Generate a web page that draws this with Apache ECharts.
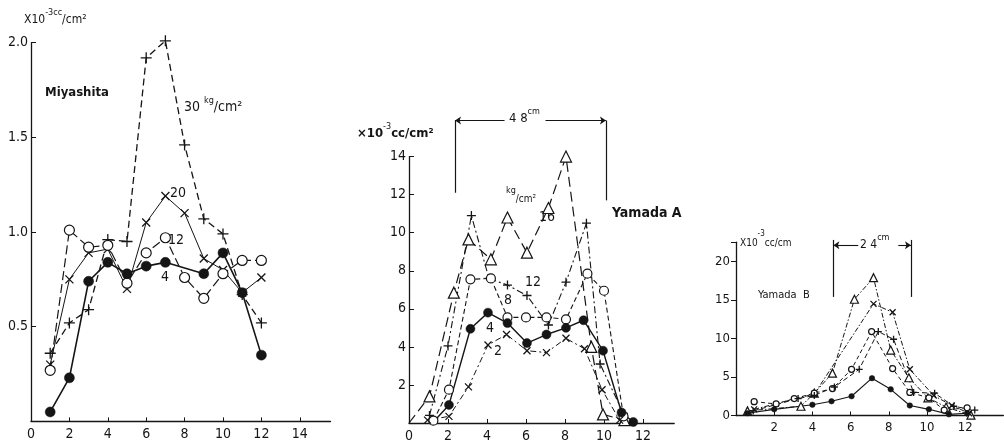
<!DOCTYPE html>
<html><head><meta charset="utf-8">
<script src="https://cdn.jsdelivr.net/npm/echarts@6/dist/echarts.min.js"></script>
<style>html,body{margin:0;padding:0;background:#fff}#c{width:1004px;height:443px}</style>
</head><body><div id="c"></div>
<script>
// ---------- Panel 1: Miyashita (x = position, y = x10^-3 cc/cm^2) ----------
const miyX   = [1, 2, 3, 4, 5, 6, 7, 8, 9, 10, 11, 12];
const miy4   = [0.05, 0.23, 0.74, 0.84, 0.78, 0.82, 0.84, null, 0.78, 0.89, 0.68, 0.35];
const miy12  = [0.27, 1.01, 0.92, 0.93, 0.73, 0.89, 0.97, 0.76, 0.65, 0.78, 0.85, 0.85];
const miy20  = [0.30, 0.75, 0.89, 0.91, 0.70, 1.05, 1.19, 1.10, 0.86, 0.80, 0.68, 0.76];
const miy30  = [0.36, 0.52, 0.59, 0.96, 0.95, 1.92, 2.01, 1.46, 1.07, 0.99, 0.67, 0.52];
const miyXTicks = [0, 2, 4, 6, 8, 10, 12, 14];
const miyYTicks = [0.5, 1.0, 1.5, 2.0];

// ---------- Panel 2: Yamada A ----------
const yaX16 = [0, 1.05, 2.3, 3.05, 4.2, 5.05, 6.05, 7.15, 8.05, 9.35, 9.95, 11.05];
const yaY16 = [0, 1.4, 6.85, 9.65, 8.6, 10.8, 8.95, 11.3, 14.0, 4.0, 0.45, 0.15];
const yaX12 = [1.05, 2.0, 3.2, 4.1, 5.05, 6.05, 7.15, 8.05, 9.1, 9.8, 11.0];
const yaY12 = [0.4, 4.05, 10.9, 7.6, 7.25, 6.7, 5.15, 7.4, 10.5, 3.1, 0.5];
const yaX8  = [1.25, 2.05, 3.15, 4.2, 5.05, 6.0, 7.05, 8.05, 9.15, 10.0, 11.0];
const yaY8  = [0.12, 1.75, 7.55, 7.6, 5.55, 5.55, 5.55, 5.45, 7.85, 6.95, 0.35];
const yaX4  = [1.2, 2.05, 3.15, 4.05, 5.05, 6.05, 7.05, 8.05, 8.95, 9.95, 10.9, 11.5];
const yaY4  = [0.0, 0.95, 4.95, 5.8, 5.25, 4.2, 4.65, 5.0, 5.4, 3.8, 0.55, 0.05];
const yaX2  = [0.95, 2.05, 3.05, 4.05, 5.0, 6.05, 7.05, 8.05, 9.0, 9.9, 10.8];
const yaY2  = [0.15, 0.35, 1.9, 4.1, 4.65, 3.8, 3.7, 4.45, 3.9, 1.75, 0.15];
const yaXTicks = [0, 2, 4, 6, 8, 10, 12];
const yaYTicks = [2, 4, 6, 8, 10, 12, 14];

// ---------- Panel 3: Yamada B ----------
const ybXTri = [0.6, 3.4, 4.1, 5.05, 6.2, 7.2, 8.1, 9.05, 10.05, 11.0, 12.3];
const ybYTri = [0.6, 1.2, 2.9, 5.5, 15.1, 17.9, 8.5, 4.9, 2.3, 1.1, 0.05];
const ybXCrs = [0.95, 4.1, 7.2, 8.2, 9.1, 10.35, 11.3, 12.2];
const ybYCrs = [0.8, 2.8, 14.5, 13.4, 6.0, 2.6, 1.3, 0.3];
const ybXRing = [0.95, 2.1, 3.05, 4.1, 5.05, 6.05, 7.1, 8.2, 9.1, 10.1, 10.9, 12.1];
const ybYRing = [1.8, 1.5, 2.2, 2.9, 3.5, 6.0, 10.9, 6.1, 3.0, 2.3, 0.7, 1.0];
const ybXPlus = [0.9, 3.25, 4.1, 5.15, 6.45, 7.45, 8.25, 9.3, 10.4, 11.4, 12.5];
const ybYPlus = [0.6, 2.2, 2.6, 3.7, 6.0, 10.9, 9.9, 3.0, 2.9, 1.2, 0.7];
const ybXDot = [0.6, 2.0, 4.0, 5.0, 6.05, 7.12, 8.1, 9.1, 10.1, 11.15, 12.1];
const ybYDot = [0.3, 0.8, 1.4, 1.85, 2.5, 4.85, 3.4, 1.3, 0.8, 0.15, 0.3];
const ybXTicks = [2, 4, 6, 8, 10, 12];
const ybYTicks = [0, 5, 10, 15, 20];

// ---------- bracket annotations (data coords) ----------
const yaBracket = { left: 2.36, right: 10.1, top: 15.9, leftBottom: 12.1, rightBottom: 11.7, gapA: 4.9, gapB: 7.0 };
const ybBracket = { left: 5.1, right: 9.16, top: 22.1, vTop: 22.8, bottom: 15.4, gapA: 6.4, gapB: 8.5 };

const INK = '#151515';
const FONT = "'Liberation Sans Narrow','DejaVu Sans Condensed','Liberation Sans',sans-serif";
const SYM = {
  cross: 'path://M0,0L10,10M10,0L0,10',
  plus: 'path://M5,0L5,10M0,5L10,5'
};

function pts(xs, ys, noFirstMarker) {
  const out = [];
  xs.forEach((x, i) => {
    if (ys[i] == null) return;
    if (noFirstMarker && i === 0) out.push({ value: [x, ys[i]], symbol: 'none' });
    else out.push([x, ys[i]]);
  });
  return out;
}

function mk(gi, xs, ys, marker, dash, lw, size, noFirst) {
  let itemStyle, symbol;
  if (marker === 'dot') { symbol = 'circle'; itemStyle = { color: INK, borderColor: INK, borderWidth: 0.5 }; }
  else if (marker === 'ring') { symbol = 'circle'; itemStyle = { color: '#fff', borderColor: INK, borderWidth: 1.2 }; }
  else if (marker === 'tri') { symbol = 'triangle'; itemStyle = { color: '#fff', borderColor: INK, borderWidth: 1.2 }; }
  else { symbol = SYM[marker]; itemStyle = { color: INK, borderColor: INK, borderWidth: 1.3 }; }
  return {
    type: 'line', xAxisIndex: gi, yAxisIndex: gi,
    data: pts(xs, ys, noFirst), symbol, symbolSize: size, showAllSymbol: true,
    lineStyle: { color: INK, width: lw, type: dash }, itemStyle,
    clip: false, silent: true, animation: false
  };
}

function axisX(gi, max, ticks, fs, showZero) {
  return {
    type: 'value', gridIndex: gi, min: 0, max, interval: 2,
    axisLine: { onZero: false, lineStyle: { color: INK, width: 1.3 } },
    axisTick: { inside: true, length: 4, lineStyle: { color: INK } },
    splitLine: { show: false },
    axisLabel: {
      color: INK, fontFamily: FONT, fontSize: fs, margin: 6, showMaxLabel: false, showMinLabel: showZero,
      formatter: v => (ticks.indexOf(v) >= 0 ? String(v) : '')
    }
  };
}
function axisY(gi, max, interval, ticks, fs, inside, showZero, fmt) {
  return {
    type: 'value', gridIndex: gi, min: 0, max, interval,
    axisLine: { onZero: false, lineStyle: { color: INK, width: 1.3 } },
    axisTick: { inside, length: 5, lineStyle: { color: INK } },
    splitLine: { show: false },
    axisLabel: {
      color: INK, fontFamily: FONT, fontSize: fs, margin: inside ? 3 : 6, showMinLabel: showZero, showMaxLabel: true,
      formatter: v => (ticks.some(t => Math.abs(t - v) < 1e-9) ? (fmt ? fmt(v) : String(v)) : '')
    }
  };
}

function bracketSeries(gi, b, vTop) {
  const segs = [
    { coords: [[b.left, b.leftBottom !== undefined ? b.leftBottom : b.bottom], [b.left, vTop]] },
    { coords: [[b.right, b.rightBottom !== undefined ? b.rightBottom : b.bottom], [b.right, vTop]] }
  ];
  const arrows = [
    { coords: [[b.gapA, b.top], [b.left, b.top]] },
    { coords: [[b.gapB, b.top], [b.right, b.top]] }
  ];
  const base = { type: 'lines', coordinateSystem: 'cartesian2d', xAxisIndex: gi, yAxisIndex: gi, silent: true, animation: false, clip: false };
  return [
    Object.assign({}, base, { data: segs, symbol: 'none', lineStyle: { color: INK, width: 1.2, opacity: 1 } }),
    Object.assign({}, base, { data: arrows, symbol: ['none', 'arrow'], symbolSize: 6, lineStyle: { color: INK, width: 1.1, opacity: 1 } })
  ];
}

const sup = (sz) => ({ fontSize: sz, fontFamily: FONT, fill: INK, verticalAlign: 'top', lineHeight: 18 });
const nor = (sz, w) => ({ fontSize: sz, fontFamily: FONT, fill: INK, fontWeight: w || 'normal', verticalAlign: 'bottom', lineHeight: 18 });
function rtext(x, y, text, rich) {
  return { type: 'text', x, y, silent: true, style: { text, rich, fill: INK } };
}
function ptext(x, y, text, size, weight) {
  return { type: 'text', x, y, silent: true, style: { text, fill: INK, font: (weight || 'normal') + ' ' + size + 'px ' + FONT } };
}

const chart = echarts.init(document.getElementById('c'), null, { renderer: 'canvas' });
chart.setOption({
  backgroundColor: '#fff',
  animation: false,
  grid: [
    { left: 31, top: 42.7, width: 299.5, height: 378.7, containLabel: false },
    { left: 409, top: 156.6, width: 265.2, height: 266.4, containLabel: false },
    { left: 736, top: 242.25, width: 267.4, height: 173.25, containLabel: false }
  ],
  xAxis: [
    axisX(0, 15.6, miyXTicks, 14, true),
    axisX(1, 13.6, yaXTicks, 14, true),
    axisX(2, 14, ybXTicks, 13, false)
  ],
  yAxis: [
    axisY(0, 2.0, 0.5, miyYTicks, 14, true, false, v => v.toFixed(1)),
    axisY(1, 14, 2, yaYTicks, 14, true, false),
    axisY(2, 22.5, 5, ybYTicks, 13, false, true)
  ],
  series: [
    // Panel 1
    mk(0, miyX, miy30, 'plus', [7, 4], 1.3, 11),
    mk(0, miyX, miy20, 'cross', 'solid', 1.0, 8),
    mk(0, miyX, miy12, 'ring', [9, 4], 1.2, 10),
    mk(0, miyX, miy4, 'dot', 'solid', 1.6, 10),
    // Panel 2
    mk(1, yaX16, yaY16, 'tri', [10, 5], 1.2, 11, true),
    mk(1, yaX12, yaY12, 'plus', [7, 3, 2, 3], 1.1, 9),
    mk(1, yaX8, yaY8, 'ring', [5, 3], 1.1, 9),
    mk(1, yaX4, yaY4, 'dot', 'solid', 1.4, 9, true),
    mk(1, yaX2, yaY2, 'cross', [6, 3, 2, 3], 1.0, 7),
    ...bracketSeries(1, yaBracket, yaBracket.top),
    // Panel 3
    mk(2, ybXTri, ybYTri, 'tri', [5, 2, 1.5, 2], 1.0, 8),
    mk(2, ybXCrs, ybYCrs, 'cross', [5, 2, 1.5, 2], 1.0, 6),
    mk(2, ybXRing, ybYRing, 'ring', [4, 3], 1.0, 6),
    mk(2, ybXPlus, ybYPlus, 'plus', [5, 3], 1.0, 7),
    mk(2, ybXDot, ybYDot, 'dot', 'solid', 1.1, 5.5),
    ...bracketSeries(2, ybBracket, ybBracket.vTop)
  ],
  graphic: [
    // Panel 1 texts
    rtext(24, 8, '{a|X10}{s|-3cc}{a|/cm²}', { a: nor(12), s: sup(9) }),
    ptext(45, 86, 'Miyashita', 13, 'bold'),
    rtext(184, 96, '{a|30 }{s|kg}{a|/cm²}', { a: nor(14), s: sup(9) }),
    ptext(170, 186, '20', 14),
    ptext(168, 233, '12', 14),
    ptext(161, 270, '4', 14),
    // Panel 2 texts
    rtext(357, 122, '{a|×10}{s|-3}{a|cc/cm²}', { a: nor(13, 'bold'), s: sup(9) }),
    rtext(509, 107, '{a|4 8}{s|cm}', { a: nor(13), s: sup(9) }),
    rtext(506, 186, '{s|kg}{a|/cm²}', { a: nor(10), s: sup(9) }),
    ptext(539, 210, '16', 14),
    ptext(525, 275, '12', 14),
    ptext(504, 293, '8', 14),
    ptext(486, 321, '4', 14),
    ptext(494, 344, '2', 14),
    ptext(612, 206, 'Yamada A', 14, 'bold'),
    // Panel 3 texts
    rtext(740, 230, '{a|X10}{s|-3}{a|cc/cm}', { a: nor(10), s: sup(8) }),
    rtext(860, 233, '{a|2 4}{s|cm}', { a: nor(12), s: sup(9) }),
    ptext(758, 290, 'Yamada  B', 11)
  ]
});
</script>
</body></html>
